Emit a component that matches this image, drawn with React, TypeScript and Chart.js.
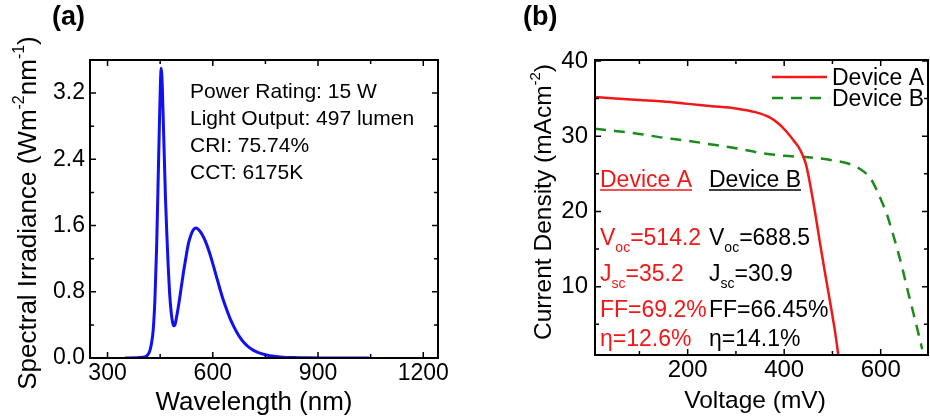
import React, { useEffect, useRef } from 'react';
import { Chart, registerables } from 'chart.js';
Chart.register(...registerables);

const FONT = '"Liberation Sans", Arial, sans-serif';

// ---------- Panel (a) data ----------
const wavelengths = [350, 380, 400, 410, 415, 420, 425, 430, 435, 440, 444, 448, 451, 453, 455, 458, 461, 465, 469, 473, 477, 481, 485, 488, 492, 497, 503, 510, 517, 524, 531, 538, 545, 552, 560, 570, 580, 590, 600, 610, 620, 630, 640, 650, 660, 670, 680, 690, 700, 715, 730, 750, 775, 800, 830, 870, 920, 1000, 1046];
const irradiance = [0, 0.002, 0.008, 0.02, 0.04, 0.08, 0.17, 0.33, 0.7, 1.35, 2.1, 2.85, 3.35, 3.5, 3.4, 3.0, 2.55, 1.95, 1.5, 1.1, 0.78, 0.57, 0.44, 0.39, 0.4, 0.5, 0.65, 0.85, 1.05, 1.23, 1.39, 1.49, 1.55, 1.57, 1.55, 1.49, 1.4, 1.28, 1.14, 0.99, 0.84, 0.7, 0.58, 0.47, 0.38, 0.3, 0.235, 0.18, 0.14, 0.095, 0.065, 0.04, 0.02, 0.01, 0.005, 0.002, 0.001, 0.0005, 0];
const xTicksA = [300, 600, 900, 1200];
const xMinorA = [450, 750, 1050];
const yTicksA = [0, 0.8, 1.6, 2.4, 3.2];
const yMinorA = [0.4, 1.2, 2.0, 2.8];
const infoLinesA = ['Power Rating: 15 W', 'Light Output: 497 lumen', 'CRI: 75.74%', 'CCT: 6175K'];

// ---------- Panel (b) data ----------
const voltageA = [8, 50, 100, 150, 200, 250, 300, 340, 370, 390, 405, 420, 433, 445, 455, 465, 475, 485, 495, 505, 512];
const currentA = [35.2, 35.0, 34.8, 34.6, 34.3, 34.0, 33.7, 33.2, 32.5, 31.6, 30.6, 29.4, 28.2, 26.3, 23.2, 19.5, 15.5, 11.7, 8.0, 4.2, 1.0];
const voltageB = [8, 50, 100, 150, 200, 250, 300, 350, 400, 450, 500, 540, 565, 580, 592, 603, 613, 623, 633, 644, 654, 663, 672, 680, 686];
const currentB = [31.0, 30.7, 30.3, 29.8, 29.4, 28.9, 28.4, 27.8, 27.4, 27.2, 26.8, 26.2, 25.3, 24.3, 22.8, 21.2, 19.6, 17.5, 15.3, 12.7, 10.0, 7.7, 5.4, 3.3, 1.7];
const xTicksB = [200, 400, 600];
const xMinorB = [100, 300, 500];
const yTicksB = [10, 20, 30, 40];
const yMinorB = [5, 15, 25, 35];
const deviceNames = ['Device A', 'Device B'];
const vocValues = ['514.2', '688.5'];
const jscValues = ['35.2', '30.9'];
const ffValues = ['69.2%', '66.45%'];
const etaValues = ['12.6%', '14.1%'];

type Seg = { t: string; size: number; dy?: number; bold?: boolean };

function drawSegs(ctx: CanvasRenderingContext2D, segs: Seg[], x: number, y: number, align: 'left' | 'center' = 'left') {
  const widths = segs.map((s) => {
    ctx.font = `${s.bold ? 'bold ' : ''}${s.size}px ${FONT}`;
    return ctx.measureText(s.t).width;
  });
  const total = widths.reduce((a, b) => a + b, 0);
  let cx = align === 'center' ? x - total / 2 : x;
  const start = cx;
  ctx.textAlign = 'left';
  ctx.textBaseline = 'alphabetic';
  segs.forEach((s, i) => {
    ctx.font = `${s.bold ? 'bold ' : ''}${s.size}px ${FONT}`;
    ctx.fillText(s.t, cx, y + (s.dy || 0));
    cx += widths[i];
  });
  return { start, end: cx };
}

function framePlugin(major: { x: number[]; y: number[] }, minor: { x: number[]; y: number[] }) {
  return {
    id: 'frameTicks',
    afterDatasetsDraw(chart: any) {
      const { ctx, chartArea: a, scales } = chart;
      const xs = scales.x;
      const ys = scales.y;
      ctx.save();
      ctx.strokeStyle = '#000';
      ctx.lineWidth = 1.5;
      const tick = (vals: number[], len: number) => {
        vals.forEach((v) => {
          const px = xs.getPixelForValue(v);
          ctx.beginPath();
          ctx.moveTo(px, a.bottom);
          ctx.lineTo(px, a.bottom - len);
          ctx.moveTo(px, a.top);
          ctx.lineTo(px, a.top + len);
          ctx.stroke();
        });
      };
      const tickY = (vals: number[], len: number) => {
        vals.forEach((v) => {
          const py = ys.getPixelForValue(v);
          ctx.beginPath();
          ctx.moveTo(a.left, py);
          ctx.lineTo(a.left + len, py);
          ctx.moveTo(a.right, py);
          ctx.lineTo(a.right - len, py);
          ctx.stroke();
        });
      };
      tick(major.x, 6);
      tick(minor.x, 4);
      tickY(major.y, 6);
      tickY(minor.y, 4);
      ctx.lineWidth = 2;
      ctx.strokeRect(a.left, a.top, a.right - a.left, a.bottom - a.top);
      ctx.restore();
    },
  };
}

function ChartA() {
  const ref = useRef<HTMLCanvasElement>(null);
  useEffect(() => {
    const annot = {
      id: 'annotA',
      afterDraw(chart: any) {
        const { ctx } = chart;
        ctx.save();
        ctx.fillStyle = '#000';
        drawSegs(ctx, [{ t: '(a)', size: 27, bold: true }], 52, 25);
        infoLinesA.forEach((line, i) => {
          drawSegs(ctx, [{ t: line, size: 21 }], 190, 98 + i * 27);
        });
        drawSegs(ctx, [{ t: 'Wavelength (nm)', size: 26 }], 254, 410, 'center');
        ctx.translate(36, 213);
        ctx.rotate(-Math.PI / 2);
        drawSegs(ctx, [
          { t: 'Spectral Irradiance (Wm', size: 26 },
          { t: '-2', size: 16, dy: -12 },
          { t: 'nm', size: 26 },
          { t: '-1', size: 16, dy: -12 },
          { t: ')', size: 26 },
        ], 0, 0, 'center');
        ctx.restore();
      },
    };
    const chart = new Chart(ref.current!, {
      type: 'line',
      data: {
        datasets: [
          {
            label: 'Spectrum',
            data: wavelengths.map((w, i) => ({ x: w, y: irradiance[i] })),
            borderColor: '#1010f0',
            borderWidth: 3,
            pointRadius: 0,
            cubicInterpolationMode: 'monotone',
            fill: false,
          },
        ],
      },
      options: {
        animation: false,
        responsive: false,
        devicePixelRatio: 1,
        layout: { padding: { left: 0, right: 27, top: 60, bottom: 0 } },
        plugins: { legend: { display: false }, tooltip: { enabled: false } },
        scales: {
          x: {
            type: 'linear',
            min: 250,
            max: 1242,
            grid: { display: false, drawTicks: false },
            border: { display: false },
            afterBuildTicks: (s: any) => { s.ticks = xTicksA.map((v) => ({ value: v })); },
            afterFit: (s: any) => { s.height = 60; },
            ticks: { color: '#000', font: { size: 23, family: FONT }, padding: 2, maxRotation: 0, callback: (v: any) => String(v) },
          },
          y: {
            type: 'linear',
            min: 0,
            max: 3.6,
            grid: { display: false, drawTicks: false },
            border: { display: false },
            afterBuildTicks: (s: any) => { s.ticks = yTicksA.map((v) => ({ value: v })); },
            afterFit: (s: any) => { s.width = 90; },
            ticks: { color: '#000', font: { size: 23, family: FONT }, padding: 5, callback: (v: any) => Number(v).toFixed(1) },
          },
        },
      },
      plugins: [framePlugin({ x: xTicksA, y: yTicksA }, { x: xMinorA, y: yMinorA }), annot],
    } as any);
    return () => chart.destroy();
  }, []);
  return <canvas ref={ref} width={465} height={418} style={{ position: 'absolute', left: 0, top: 0, width: 465, height: 418 }} />;
}

function ChartB() {
  const ref = useRef<HTMLCanvasElement>(null);
  useEffect(() => {
    const annot = {
      id: 'annotB',
      afterDraw(chart: any) {
        const { ctx } = chart;
        ctx.save();
        ctx.fillStyle = '#000';
        drawSegs(ctx, [{ t: '(b)', size: 27, bold: true }], 58, 25);
        chart.data.datasets.forEach((ds: any, i: number) => {
          const y = 77 + i * 21;
          ctx.save();
          ctx.strokeStyle = ds.borderColor;
          ctx.lineWidth = ds.borderWidth;
          ctx.setLineDash(ds.borderDash || []);
          ctx.beginPath();
          ctx.moveTo(307, y);
          ctx.lineTo(362, y);
          ctx.stroke();
          ctx.restore();
          ctx.fillStyle = '#000';
          drawSegs(ctx, [{ t: ds.label, size: 23 }], 367, y + 8);
        });
        const cols = [135, 244];
        const colors = ['#f01818', '#000'];
        cols.forEach((cx, i) => {
          ctx.fillStyle = colors[i];
          ctx.strokeStyle = colors[i];
          const r = drawSegs(ctx, [{ t: deviceNames[i], size: 23 }], cx, 187);
          ctx.lineWidth = 1.5;
          ctx.beginPath();
          ctx.moveTo(r.start, 190);
          ctx.lineTo(r.end, 190);
          ctx.stroke();
          drawSegs(ctx, [{ t: 'V', size: 23 }, { t: 'oc', size: 14, dy: 7 }, { t: '=' + vocValues[i], size: 23 }], cx, 245);
          drawSegs(ctx, [{ t: 'J', size: 23 }, { t: 'sc', size: 14, dy: 7 }, { t: '=' + jscValues[i], size: 23 }], cx, 281);
          drawSegs(ctx, [{ t: 'FF=' + ffValues[i], size: 23 }], cx, 317);
          drawSegs(ctx, [{ t: 'η=' + etaValues[i], size: 23 }], cx, 346);
        });
        ctx.fillStyle = '#000';
        drawSegs(ctx, [{ t: 'Voltage (mV)', size: 24.5 }], 290, 408, 'center');
        ctx.translate(86, 202);
        ctx.rotate(-Math.PI / 2);
        drawSegs(ctx, [
          { t: 'Current Density (mAcm', size: 24.5 },
          { t: '-2', size: 15, dy: -11 },
          { t: ')', size: 24.5 },
        ], 0, 0, 'center');
        ctx.restore();
      },
    };
    const chart = new Chart(ref.current!, {
      type: 'line',
      data: {
        datasets: [
          {
            label: deviceNames[0],
            data: voltageA.map((v, i) => ({ x: v, y: currentA[i] })),
            borderColor: '#f01818',
            borderWidth: 2.5,
            pointRadius: 0,
            cubicInterpolationMode: 'monotone',
          },
          {
            label: deviceNames[1],
            data: voltageB.map((v, i) => ({ x: v, y: currentB[i] })),
            borderColor: '#1c8a1c',
            borderWidth: 2.5,
            borderDash: [11, 8],
            pointRadius: 0,
            cubicInterpolationMode: 'monotone',
          },
        ],
      },
      options: {
        animation: false,
        responsive: false,
        devicePixelRatio: 1,
        layout: { padding: { left: 0, right: 2, top: 60, bottom: 0 } },
        plugins: { legend: { display: false }, tooltip: { enabled: false } },
        scales: {
          x: {
            type: 'linear',
            min: 8,
            max: 698,
            grid: { display: false, drawTicks: false },
            border: { display: false },
            afterBuildTicks: (s: any) => { s.ticks = xTicksB.map((v) => ({ value: v })); },
            afterFit: (s: any) => { s.height = 63; },
            ticks: { color: '#000', font: { size: 24, family: FONT }, padding: 1, maxRotation: 0, callback: (v: any) => String(v) },
          },
          y: {
            type: 'linear',
            min: 0.93,
            max: 40.13,
            grid: { display: false, drawTicks: false },
            border: { display: false },
            afterBuildTicks: (s: any) => { s.ticks = yTicksB.map((v) => ({ value: v })); },
            afterFit: (s: any) => { s.width = 130; },
            ticks: { color: '#000', font: { size: 24, family: FONT }, padding: 7, callback: (v: any) => String(v) },
          },
        },
      },
      plugins: [framePlugin({ x: xTicksB, y: yTicksB }, { x: xMinorB, y: yMinorB }), annot],
    } as any);
    return () => chart.destroy();
  }, []);
  return <canvas ref={ref} width={465} height={418} style={{ position: 'absolute', left: 465, top: 0, width: 465, height: 418 }} />;
}

export default function App() {
  return (
    <div style={{ position: 'absolute', left: 0, top: 0, width: 930, height: 418, background: '#fff', overflow: 'hidden' }}>
      <ChartA />
      <ChartB />
    </div>
  );
}
